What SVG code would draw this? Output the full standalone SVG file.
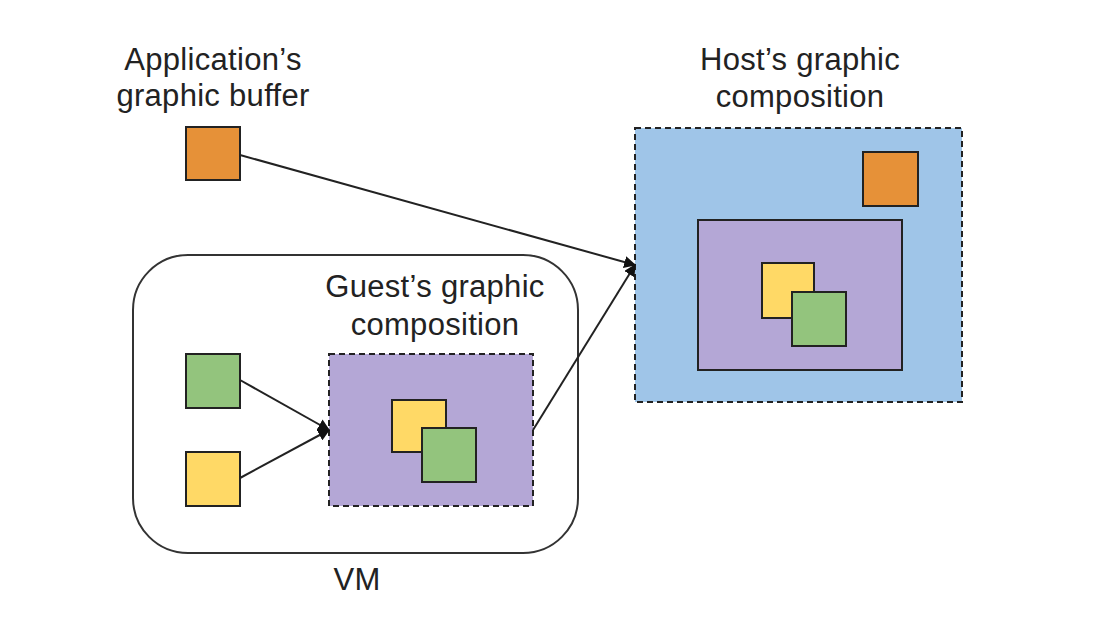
<svg xmlns="http://www.w3.org/2000/svg" width="1108" height="630" viewBox="0 0 1108 630">
<style>
.lbl{font-family:"Liberation Sans",Arial,sans-serif;font-size:31px;fill:#222;text-anchor:middle;letter-spacing:0.3px}
.box{stroke:#222;stroke-width:2}
.dash{stroke:#222;stroke-width:2;stroke-dasharray:6 4}
.or{fill:#E69138}.gr{fill:#93C47D}.ye{fill:#FFD966}.pu{fill:#B4A7D6}.bl{fill:#9FC5E8}
.conn{stroke:#222;stroke-width:2;fill:none;marker-end:url(#ah)}
</style>
<defs>
<marker id="ah" viewBox="0 0 10 10" refX="9" refY="5" markerWidth="6" markerHeight="6" markerUnits="strokeWidth" orient="auto">
<path d="M0,0 L10,5 L0,10 z" fill="#111"/>
</marker>
</defs>
<rect width="1108" height="630" fill="#fff"/>
<g id="vm">
<rect x="133" y="255" width="445" height="298" rx="55" ry="55" fill="#fff" stroke="#333" stroke-width="2"/>
<text class="lbl" x="357" y="590">VM</text>
</g>
<g id="app-buffer">
<text class="lbl" x="213" y="70">Application’s</text>
<text class="lbl" x="213" y="106">graphic buffer</text>
<rect class="box or" x="186" y="127" width="54" height="53"/>
</g>
<g id="host-composition">
<text class="lbl" x="800" y="70">Host’s graphic</text>
<text class="lbl" x="800" y="107">composition</text>
<rect class="dash bl" x="635" y="128" width="327" height="274"/>
<rect class="box or" x="863" y="152" width="55" height="54"/>
<rect class="box pu" x="698" y="220" width="204" height="150"/>
<rect class="box ye" x="762" y="263" width="52" height="55"/>
<rect class="box gr" x="792" y="292" width="54" height="54"/>
</g>
<g id="guest-composition">
<text class="lbl" x="435" y="297">Guest’s graphic</text>
<text class="lbl" x="435" y="335">composition</text>
<rect class="dash pu" x="329" y="354" width="204" height="152"/>
<rect class="box ye" x="392" y="400" width="54" height="52"/>
<rect class="box gr" x="422" y="428" width="54" height="54"/>
</g>
<g id="guest-green">
<rect class="box gr" x="186" y="354" width="54" height="54"/>
</g>
<g id="guest-yellow">
<rect class="box ye" x="186" y="452" width="54" height="54"/>
</g>
<g id="connectors">
<line class="conn" x1="240" y1="155" x2="635" y2="265"/>
<line class="conn" x1="240" y1="380" x2="329" y2="430"/>
<line class="conn" x1="240" y1="478" x2="329" y2="430"/>
<line class="conn" x1="533" y1="430" x2="635" y2="265"/>
</g>
</svg>
